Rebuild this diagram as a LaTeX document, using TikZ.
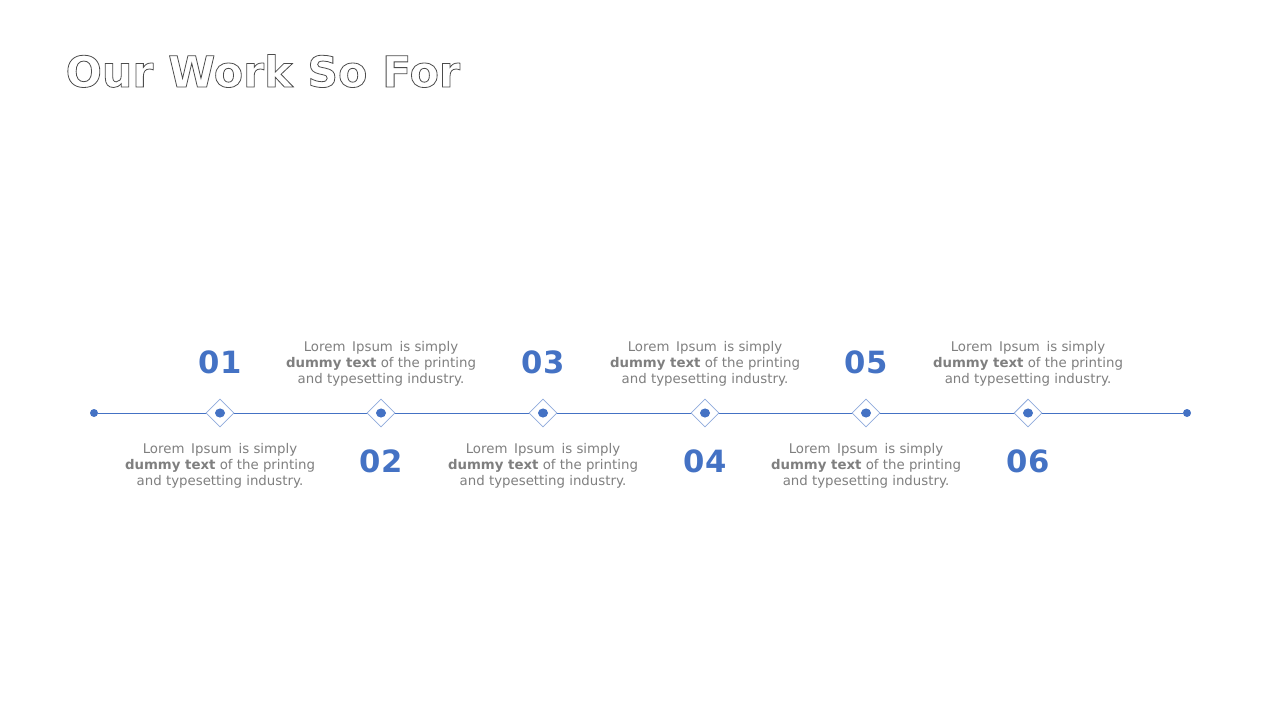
\documentclass[tikz,border=0pt]{standalone}
\usepackage{fontspec}
\setmainfont{DejaVu Sans}
\usetikzlibrary{positioning,shapes.geometric}

\definecolor{stepblue}{HTML}{4472C4}
\definecolor{lightblue}{HTML}{8FAADC}
\definecolor{textgray}{HTML}{7F7F7F}

\newcommand{\outlinetext}[1]{\special{pdf:literal direct 1 Tr 0.6 w 0.3 G}#1\special{pdf:literal direct 0 Tr}}
\newcommand{\blurb}{Lorem\hspace{0.5em}Ipsum\hspace{0.5em}is simply\\\textbf{dummy text} of the printing\\and typesetting industry.}

\begin{document}
\begin{tikzpicture}[x=0.75pt,y=-0.75pt,
	mark dot/.style={circle,fill=stepblue,inner sep=0pt,minimum size=6pt},
	milestone/.style={diamond,draw=lightblue,fill=white,line width=0.6pt,inner sep=0pt,minimum size=21pt},
	yeardot/.style={ellipse,fill=stepblue,inner sep=0pt,minimum width=7.5pt,minimum height=6.8pt},
	number/.style={text=stepblue,font=\fontsize{23}{27}\selectfont\bfseries},
	blurbtext/.style={text=textgray,align=center,font=\fontsize{10}{12}\selectfont}]

\useasboundingbox (0,0) rectangle (1280,720);

\node[anchor=west,font=\fontsize{32}{36}\selectfont\bfseries] (title) at (61,71) {\outlinetext{Our Work So For}};

\node[mark dot](start) at (94,413) {};
\node[mark dot](end) at (1187,413) {};
\draw[stepblue,line width=0.7pt](start)--(end);

\foreach[count=\c] \x in {220,381,543,705,866,1028}{
	\node[milestone](m\c) at (\x,413) {};
	\node[yeardot] at (m\c) {};
}

\foreach \c/\x in {1/220,3/543,5/866}{
	\node[number](n\c) at (\x,362) {0\c};
	\node[blurbtext](t\c) at (\x,466) {\blurb};
}
\foreach \c/\x in {2/381,4/705,6/1028}{
	\node[number](n\c) at (\x,461) {0\c};
	\node[blurbtext](t\c) at (\x,364) {\blurb};
}

\end{tikzpicture}
\end{document}
